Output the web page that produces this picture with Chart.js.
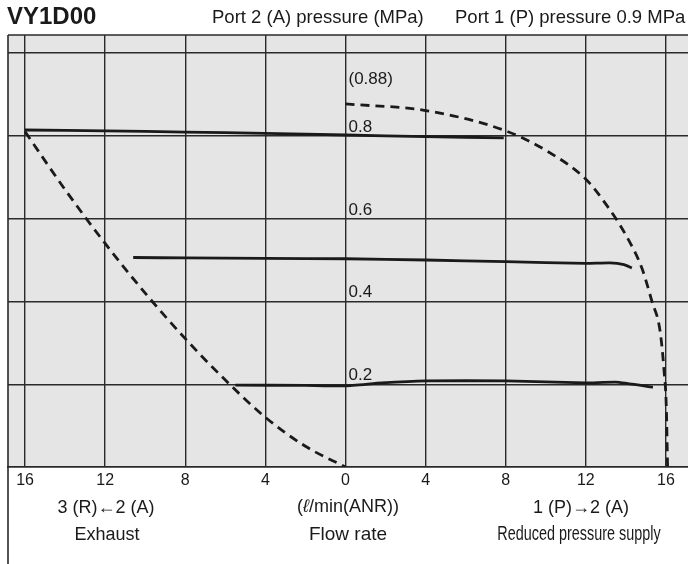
<!DOCTYPE html>
<html>
<head>
<meta charset="utf-8">
<script src="https://cdn.jsdelivr.net/npm/chart.js@4.4.1/dist/chart.umd.min.js"></script>
<style>
  html, body { margin: 0; padding: 0; background: #fff; }
  #wrap { position: relative; width: 688px; height: 564px; overflow: hidden;
          font-family: "Liberation Sans", Arial, Helvetica, sans-serif; color: #1a1a1a; }
  #wrap canvas { position: absolute; left: 0; top: 0; }
  .t { position: absolute; white-space: nowrap; line-height: 1; }
  .c { transform: translateX(-50%); }
</style>
</head>
<body>
<div id="wrap">
  <canvas id="chart" width="688" height="564"></canvas>
  <div class="t" style="left:7px;top:4px;font-size:24px;font-weight:bold;">VY1D00</div>
  <div class="t" style="left:212px;top:8px;font-size:18.5px;">Port 2 (A) pressure (MPa)</div>
  <div class="t" style="left:455px;top:8px;font-size:18.5px;">Port 1 (P) pressure 0.9 MPa</div>

  <div class="t c" style="left:106px;top:498px;font-size:18px;">3 (R)←2 (A)</div>
  <div class="t c" style="left:107px;top:525px;font-size:18px;">Exhaust</div>
  <div class="t c" style="left:348px;top:497px;font-size:18px;">(<i>ℓ</i>/min(ANR))</div>
  <div class="t c" style="left:348px;top:524px;font-size:19px;">Flow rate</div>
  <div class="t c" style="left:581px;top:498px;font-size:18px;">1 (P)→2 (A)</div>
  <div class="t" style="left:579px;top:523px;font-size:20px;transform:translateX(-50%) scaleX(0.72);">Reduced pressure supply</div>
</div>

<script>
/* VY1D00 flow characteristics: flow rate (l/min ANR) vs port 2 (A) pressure (MPa).
   Left half = exhaust 3(R)<-2(A), right half = supply 1(P)->2(A); x < 0 is the exhaust side. */

// x ticks (printed as absolute values) and y grid lines
var xTicks = [-16, -12, -8, -4, 0, 4, 8, 12, 16];
var yGrid = [0.2, 0.4, 0.6, 0.8, 1.0];
var yGridLabels = [0.2, 0.4, 0.6, 0.8];

// dashed: exhaust limit curve
var exhaustX = [-16, -14, -12, -10, -8, -6, -4, -2, 0];
var exhaustY = [0.81, 0.67, 0.54, 0.42, 0.31, 0.21, 0.12, 0.05, 0];

// dashed: supply limit curve (starts at 0.88 with no flow)
var supplyX = [0, 4, 8, 10, 12, 13, 14, 14.8, 15.3, 15.7, 15.9, 16.02, 16.08];
var supplyY = [0.877, 0.861, 0.812, 0.765, 0.695, 0.635, 0.56, 0.48, 0.40, 0.33, 0.235, 0.14, 0];
var supplyStartLabel = "(0.88)";
var supplyStartValue = 0.88;

// solid: regulated pressure settings
var set08X = [-16, -12, -8, -4, 0, 4, 7.9];
var set08Y = [0.814, 0.812, 0.809, 0.806, 0.802, 0.798, 0.795];
var set05X = [-10.6, -8, -4, 0, 4, 8, 12, 13.2, 13.9, 14.3];
var set05Y = [0.506, 0.505, 0.504, 0.503, 0.50, 0.496, 0.492, 0.493, 0.489, 0.481];
var set02X = [-5.5, -2, 0, 1.8, 4, 8, 12, 13.5, 15.35];
var set02Y = [0.198, 0.197, 0.196, 0.203, 0.208, 0.208, 0.203, 0.205, 0.193];

var FONT = '"Liberation Sans", Arial, Helvetica, sans-serif';
var INK = "#1a1a1a";
var GRID = "#2a2a2a";
var PLOT_BG = "#e5e5e5";

function pts(xs, ys) {
  return xs.map(function (x, i) { return { x: x, y: ys[i] }; });
}

function line(xs, ys, dashed) {
  return {
    data: pts(xs, ys),
    showLine: true,
    borderColor: INK,
    borderWidth: 2.8,
    borderDash: dashed ? [9, 6] : [],
    pointRadius: 0,
    cubicInterpolationMode: dashed ? "monotone" : "default",
    tension: dashed ? 0 : 0.15,
    fill: false
  };
}

// plot background, frame lines, in-plot value labels
var decor = {
  id: "decor",
  beforeDraw: function (chart) {
    var a = chart.chartArea, ctx = chart.ctx;
    ctx.save();
    ctx.fillStyle = PLOT_BG;
    ctx.fillRect(a.left, a.top, a.right - a.left, a.bottom - a.top);
    ctx.restore();
  },
  afterDraw: function (chart) {
    var a = chart.chartArea, ctx = chart.ctx;
    var xs = chart.scales.x, ys = chart.scales.y;
    ctx.save();
    ctx.strokeStyle = GRID;
    ctx.lineWidth = 1.6;
    ctx.beginPath();
    ctx.moveTo(a.left, a.top); ctx.lineTo(chart.width, a.top);
    ctx.moveTo(a.left, a.top); ctx.lineTo(a.left, chart.height);
    ctx.stroke();

    ctx.fillStyle = INK;
    ctx.font = "17px " + FONT;
    ctx.textAlign = "left";
    ctx.textBaseline = "alphabetic";
    var x0 = xs.getPixelForValue(0) + 3;
    yGridLabels.forEach(function (v) {
      ctx.fillText(String(v), x0, ys.getPixelForValue(v) - 4);
    });
    ctx.fillText(supplyStartLabel, x0, ys.getPixelForValue(supplyStartValue) - 19);
    ctx.restore();
  }
};

new Chart(document.getElementById("chart").getContext("2d"), {
  type: "scatter",
  data: {
    datasets: [
      line(exhaustX, exhaustY, true),
      line(supplyX, supplyY, true),
      line(set08X, set08Y, false),
      line(set05X, set05Y, false),
      line(set02X, set02Y, false)
    ]
  },
  options: {
    responsive: false,
    animation: false,
    devicePixelRatio: 1,
    layout: { padding: { left: 8, top: 35, right: 0, bottom: 0 } },
    plugins: { legend: { display: false }, tooltip: { enabled: false } },
    scales: {
      x: {
        type: "linear",
        min: -16.85,
        max: 17.1,
        afterBuildTicks: function (s) { s.ticks = xTicks.map(function (v) { return { value: v }; }); },
        afterFit: function (s) { s.height = 97; },
        ticks: {
          autoSkip: false,
          maxRotation: 0,
          padding: 4,
          color: INK,
          font: { size: 16, family: FONT },
          callback: function (v) { return String(Math.abs(v)); }
        },
        grid: { color: GRID, lineWidth: 1.4, drawTicks: false },
        border: { color: GRID, width: 1.8 }
      },
      y: {
        type: "linear",
        min: 0,
        max: 1.0435,
        afterBuildTicks: function (s) { s.ticks = yGrid.map(function (v) { return { value: v }; }); },
        afterFit: function (s) { s.width = 0; },
        ticks: { display: false },
        grid: { color: GRID, lineWidth: 1.4, drawTicks: false },
        border: { display: false }
      }
    }
  },
  plugins: [decor]
});
</script>
</body>
</html>
